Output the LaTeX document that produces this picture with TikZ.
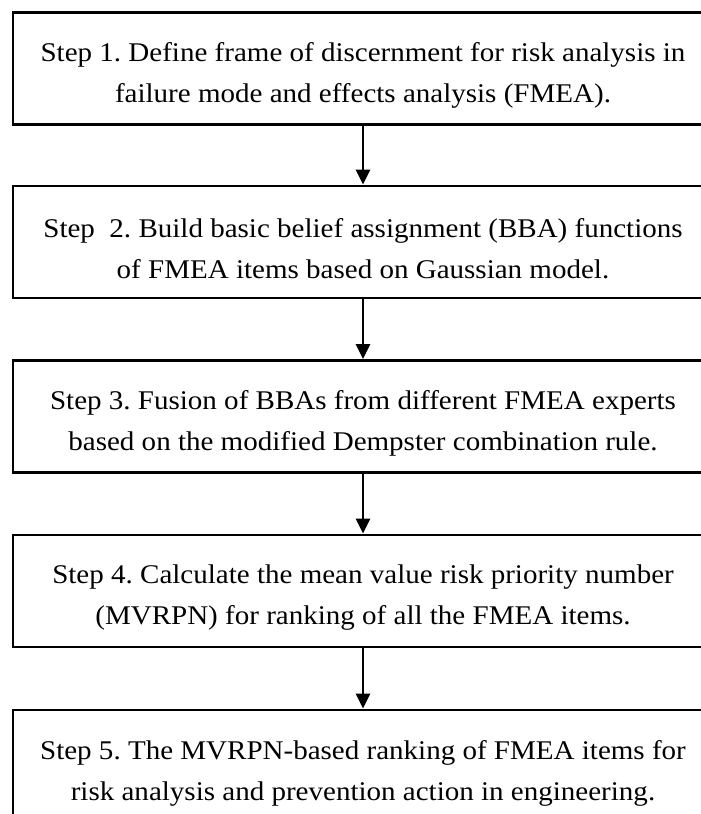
\documentclass[tikz,border=0pt]{standalone}
\usepackage{fontspec}
\setmainfont{Liberation Serif}[FakeStretch=1.075]
\usetikzlibrary{arrows.meta}
\begin{document}
\begin{tikzpicture}[x=1pt,y=-1pt,
  stepbox/.style={draw=black,line width=2.8pt,minimum width=700pt,minimum height=112pt,inner sep=0pt},
  steptext/.style={align=center,inner sep=0pt,yshift=-7pt,font=\fontsize{27}{41}\selectfont\frenchspacing},
  flow/.style={line width=2.5pt,-{Triangle[length=15pt,width=14pt]}}]
\useasboundingbox (0,0) rectangle (701,814);
\clip (0,0) rectangle (701,814);
\node[stepbox,label={[steptext]center:Step 1. Define frame of discernment for risk analysis in\\failure mode and effects analysis (FMEA).}] (s1) at (363,68.5) {};
\node[stepbox,label={[steptext]center:Step\ \ 2. Build basic belief assignment (BBA) functions\\of FMEA items based on Gaussian model.}] (s2) at (363,242) {};
\node[stepbox,label={[steptext]center:Step 3. Fusion of BBAs from different FMEA experts\\based on the modified Dempster combination rule.}] (s3) at (363,416.5) {};
\node[stepbox,label={[steptext]center:Step 4. Calculate the mean value risk priority number\\(MVRPN) for ranking of all the FMEA items.}] (s4) at (363,591) {};
\node[stepbox,label={[steptext]center:Step 5. The MVRPN-based ranking of FMEA items for\\risk analysis and prevention action in engineering.}] (s5) at (363,766) {};
\draw[flow] (s1) -- (s2);
\draw[flow] (s2) -- (s3);
\draw[flow] (s3) -- (s4);
\draw[flow] (s4) -- (s5);
\end{tikzpicture}
\end{document}
